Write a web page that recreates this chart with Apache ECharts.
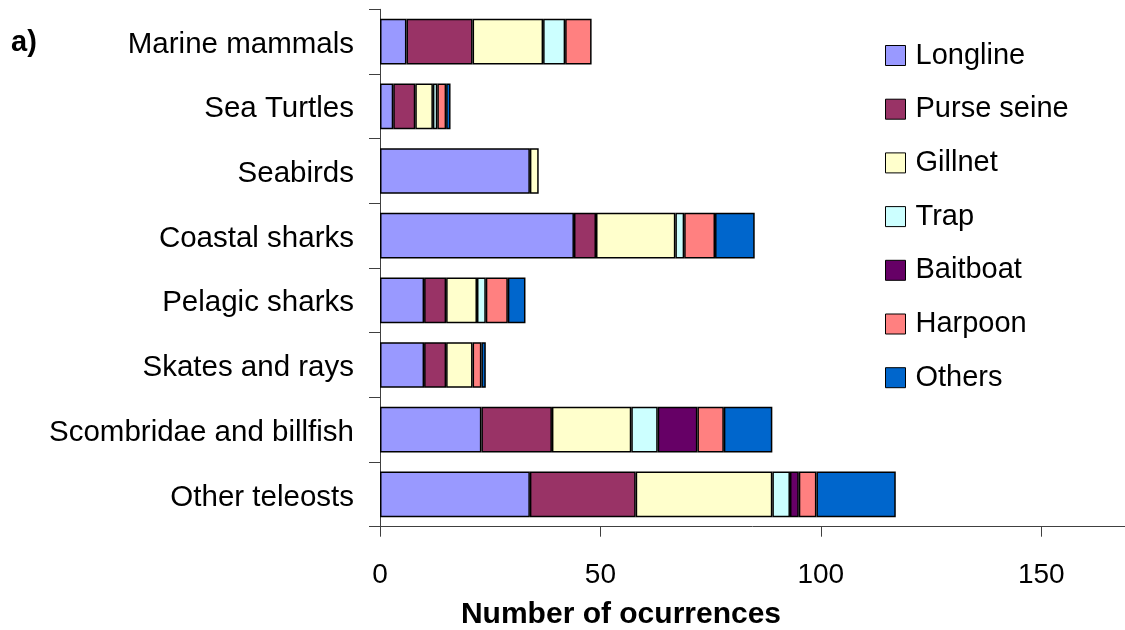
<!DOCTYPE html>
<html>
<head>
<meta charset="utf-8">
<script src="https://cdn.jsdelivr.net/npm/echarts@6/dist/echarts.min.js"></script>
<style>
  html, body { margin: 0; padding: 0; background: #fff; }
  #chart { width: 1125px; height: 630px; }
</style>
</head>
<body>
<div id="chart"></div>
<script>
// Bycatch occurrences by taxonomic group and fishing gear
const categories = ['Marine mammals', 'Sea Turtles', 'Seabirds', 'Coastal sharks',
  'Pelagic sharks', 'Skates and rays', 'Scombridae and billfish', 'Other teleosts'];

const longline   = [6, 3, 34, 44, 10, 10, 23, 34];
const purseSeine = [15, 5, 0, 5, 5, 5, 16, 24];
const gillnet    = [16, 4, 2, 18, 7, 6, 18, 31];
const trap       = [5, 1, 0, 2, 2, 0, 6, 4];
const baitboat   = [0, 0, 0, 0, 0, 0, 9, 2];
const harpoon    = [6, 2, 0, 7, 5, 2, 6, 4];
const others     = [0, 1, 0, 9, 4, 1, 11, 18];

const xTicks = [0, 50, 100, 150];

const gears = [
  { name: 'Longline',    data: longline,   color: '#9999FF' },
  { name: 'Purse seine', data: purseSeine, color: '#993366' },
  { name: 'Gillnet',     data: gillnet,    color: '#FFFFCC' },
  { name: 'Trap',        data: trap,       color: '#CCFFFF' },
  { name: 'Baitboat',    data: baitboat,   color: '#660066' },
  { name: 'Harpoon',     data: harpoon,    color: '#FF8080' },
  { name: 'Others',      data: others,     color: '#0066CC' }
];

const FONT = '"Liberation Sans", Arial, Helvetica, sans-serif';
const chart = echarts.init(document.getElementById('chart'), null, { renderer: 'canvas' });

chart.setOption({
  animation: false,
  backgroundColor: '#ffffff',
  textStyle: { fontFamily: FONT, color: '#000' },
  title: [
    {
      text: 'a)', left: 6, top: 23,
      textStyle: { fontFamily: FONT, fontSize: 29, fontWeight: 'bold', color: '#000' }
    },
    {
      text: 'Number of ocurrences', left: 616, top: 595, textAlign: 'center',
      textStyle: { fontFamily: FONT, fontSize: 30, fontWeight: 'bold', color: '#000' }
    }
  ],
  legend: {
    orient: 'vertical',
    left: 880, top: 36,
    itemWidth: 20, itemHeight: 20, itemGap: 24.7,
    icon: 'rect',
    data: gears.map(g => g.name),
    textStyle: { fontFamily: FONT, fontSize: 29, color: '#000', padding: [0, 0, 0, 5] },
    itemStyle: { borderColor: '#000', borderWidth: 1 }
  },
  grid: { left: 380, right: 0, top: 9.3, bottom: 103.3, containLabel: false },
  xAxis: {
    type: 'value',
    min: xTicks[0], max: 169, interval: xTicks[1] - xTicks[0],
    axisLine: { show: true, lineStyle: { color: '#404040', width: 1 } },
    axisTick: { show: true, length: 10, lineStyle: { color: '#404040' } },
    axisLabel: { fontFamily: FONT, fontSize: 28, color: '#000', margin: 35, showMaxLabel: false },
    splitLine: { show: false }
  },
  yAxis: {
    type: 'category',
    data: categories,
    inverse: true,
    axisLine: { show: true, lineStyle: { color: '#404040', width: 1 } },
    axisTick: { show: true, length: 11, lineStyle: { color: '#404040' } },
    axisLabel: {
      fontFamily: FONT, fontSize: 29.5, color: '#000', margin: 26,
      formatter: v => '{c|' + v + '}',
      rich: { c: { fontFamily: FONT, fontSize: 29.5, color: '#000', padding: [6, 0, 0, 0] } }
    },
    splitLine: { show: false }
  },
  series: gears.map(g => ({
    name: g.name,
    type: 'bar',
    stack: 'total',
    barWidth: '70.6%',
    data: g.data.map(v => (v === 0 ? '-' : v)),
    itemStyle: { color: g.color, borderColor: '#000', borderWidth: 1.5 }
  }))
});
</script>
</body>
</html>
